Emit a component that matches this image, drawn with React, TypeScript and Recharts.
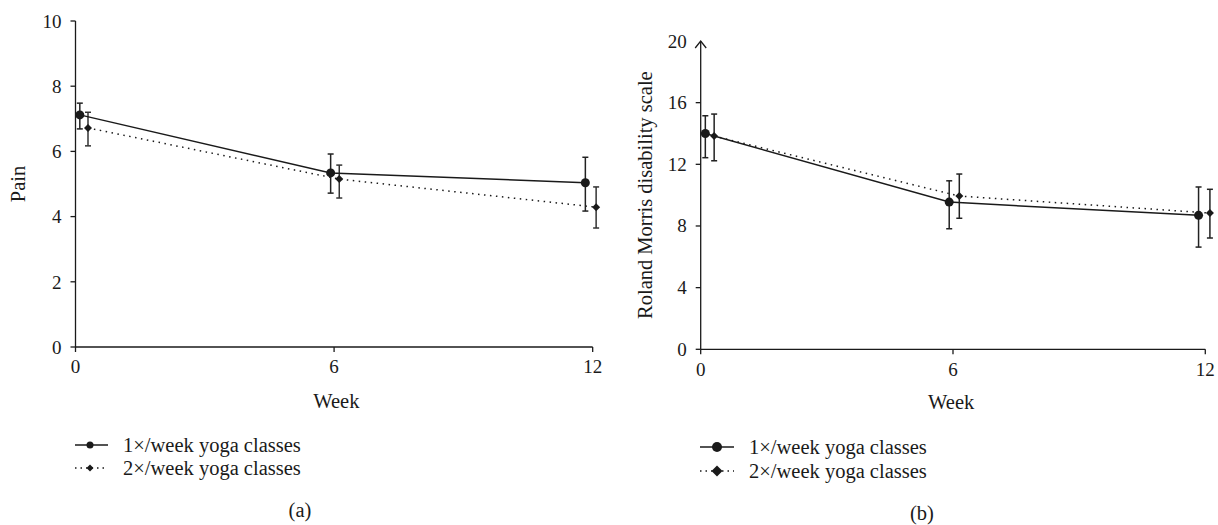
import React from 'react';
import { LineChart, Line, XAxis, YAxis, ErrorBar, Legend, ReferenceLine } from 'recharts';

const weekTicks = [0, 6, 12];
const painTicks = [0, 2, 4, 6, 8, 10];
const rmdqTicks = [0, 4, 8, 12, 16, 20];
const seriesNames = ['1×/week yoga classes', '2×/week yoga classes'];

// Panel (a) – Pain (x = plotted week position, slightly jittered as in the figure)
const painOnceX = [0.1, 5.92, 11.83];
const painOnceMean = [7.12, 5.34, 5.04];
const painOnceErrLow = [0.43, 0.62, 0.87];
const painOnceErrHigh = [0.36, 0.58, 0.78];

const painTwiceX = [0.29, 6.12, 12.08];
const painTwiceMean = [6.72, 5.15, 4.29];
const painTwiceErrLow = [0.55, 0.58, 0.64];
const painTwiceErrHigh = [0.48, 0.43, 0.62];

// Panel (b) – Roland Morris disability scale
const rmdqOnceX = [0.11, 5.91, 11.84];
const rmdqOnceMean = [14.0, 9.55, 8.69];
const rmdqOnceErrLow = [1.57, 1.73, 2.06];
const rmdqOnceErrHigh = [1.15, 1.38, 1.84];

const rmdqTwiceX = [0.32, 6.15, 12.11];
const rmdqTwiceMean = [13.83, 9.94, 8.84];
const rmdqTwiceErrLow = [1.6, 1.44, 1.62];
const rmdqTwiceErrHigh = [1.43, 1.43, 1.54];

const build = (xs: number[], ys: number[], lo: number[], hi: number[]) =>
  xs.map((x, i) => ({ x, y: ys[i], err: [lo[i], hi[i]] }));

const FONT = '"Liberation Serif", "Times New Roman", serif';
const INK = '#1a1a1a';

const diamondPath = (cx: number, cy: number, r: number) =>
  `M${cx},${cy - r} L${cx + r},${cy} L${cx},${cy + r} L${cx - r},${cy} Z`;

const makeCircleDot = (r: number) => (p: any) => (
  <circle key={`c-${p.index}`} cx={p.cx} cy={p.cy} r={r} fill={INK} />
);
const makeDiamondDot = (r: number) => (p: any) => (
  <path key={`d-${p.index}`} d={diamondPath(p.cx, p.cy, r)} fill={INK} />
);

const yLabel = (text: string, dx: number, arrow: boolean) => (props: any) => {
  const vb = props.viewBox || {};
  const cx = vb.x + dx;
  const cy = vb.y + vb.height / 2;
  const ax = vb.x + vb.width;
  const ay = vb.y;
  return (
    <g>
      <text
        x={cx}
        y={cy}
        transform={`rotate(-90 ${cx} ${cy})`}
        textAnchor="middle"
        dominantBaseline="central"
        fontFamily={FONT}
        fontSize={20.5}
        fill={INK}
      >
        {text}
      </text>
      {arrow && (
        <path
          d={`M${ax - 5.5},${ay + 7} L${ax},${ay} L${ax + 5.5},${ay + 7}`}
          stroke={INK}
          strokeWidth={1.3}
          fill="none"
        />
      )}
    </g>
  );
};

const xLabel = (text: string, dx: number, dy: number) => (props: any) => {
  const vb = props.viewBox || {};
  return (
    <text
      x={vb.x + vb.width / 2 + dx}
      y={vb.y + dy}
      textAnchor="middle"
      dominantBaseline="central"
      fontFamily={FONT}
      fontSize={20.5}
      fill={INK}
    >
      {text}
    </text>
  );
};

const NoTop20Tick = (props: any) => {
  const { x, y, payload } = props;
  const tickMargin = 9;
  const tickSize = 5;
  return (
    <g>
      {payload.value !== 20 && (
        <line
          x1={x + tickMargin}
          x2={x + tickMargin + tickSize}
          y1={y}
          y2={y}
          stroke={INK}
          strokeWidth={1.3}
        />
      )}
      <text x={x} y={y} textAnchor="end" dominantBaseline="central" fontFamily={FONT} fontSize={19} fill={INK}>
        {payload.value}
      </text>
    </g>
  );
};

type LegendCfg = {
  lineL: number;
  lineR: number;
  markerX: number;
  circleR: number;
  diamondR: number;
  textL: number;
  row1: number;
  row2: number;
  caption: string;
  captionX: number;
  captionY: number;
};

const legendContent = (cfg: LegendCfg) => () => {
  const w = cfg.lineR - cfg.lineL + 4;
  const row = (idx: number, top: number) => (
    <div
      key={idx}
      style={{
        position: 'absolute',
        left: cfg.lineL - 2,
        top: top - 12,
        height: 24,
        display: 'flex',
        alignItems: 'center',
        whiteSpace: 'nowrap',
      }}
    >
      <svg width={w} height={24} style={{ display: 'block' }}>
        <line
          x1={2}
          x2={w - 2}
          y1={12}
          y2={12}
          stroke={INK}
          strokeWidth={1.5}
          strokeDasharray={idx === 0 ? undefined : '1.5 4'}
        />
        {idx === 0 ? (
          <circle cx={cfg.markerX - cfg.lineL + 2} cy={12} r={cfg.circleR} fill={INK} />
        ) : (
          <path d={diamondPath(cfg.markerX - cfg.lineL + 2, 12, cfg.diamondR)} fill={INK} />
        )}
      </svg>
      <span
        style={{
          marginLeft: cfg.textL - cfg.lineR - 2,
          fontFamily: FONT,
          fontSize: 20.5,
          color: INK,
          lineHeight: '24px',
        }}
      >
        {seriesNames[idx]}
      </span>
    </div>
  );
  return (
    <div style={{ position: 'relative', width: 609, height: 95 }}>
      {row(0, cfg.row1)}
      {row(1, cfg.row2)}
      <div
        style={{
          position: 'absolute',
          left: cfg.captionX - 30,
          width: 60,
          top: cfg.captionY - 12,
          lineHeight: '24px',
          textAlign: 'center',
          fontFamily: FONT,
          fontSize: 20.5,
          color: INK,
        }}
      >
        {cfg.caption}
      </div>
    </div>
  );
};

const painOnce = build(painOnceX, painOnceMean, painOnceErrLow, painOnceErrHigh);
const painTwice = build(painTwiceX, painTwiceMean, painTwiceErrLow, painTwiceErrHigh);
const rmdqOnce = build(rmdqOnceX, rmdqOnceMean, rmdqOnceErrLow, rmdqOnceErrHigh);
const rmdqTwice = build(rmdqTwiceX, rmdqTwiceMean, rmdqTwiceErrLow, rmdqTwiceErrHigh);

const tickStyle = { fontFamily: FONT, fontSize: 19, fill: INK };

export default function App() {
  return (
    <div style={{ position: 'absolute', left: 0, top: 0, width: 1218, height: 525, background: '#fff' }}>
      {/* Panel (a) */}
      <div style={{ position: 'absolute', left: 0, top: 0 }}>
        <LineChart width={609} height={525} margin={{ top: 21, right: 7.7, left: 0, bottom: 148 }}>
          <XAxis
            type="number"
            dataKey="x"
            domain={[0, 12.2]}
            ticks={weekTicks}
            axisLine={false}
            tickSize={5}
            tickMargin={8}
            tickLine={{ stroke: INK, strokeWidth: 1.3 }}
            tick={tickStyle}
            height={30}
            label={{ content: xLabel('Week', -2, 54) }}
          />
          <YAxis
            type="number"
            domain={[0, 10]}
            ticks={painTicks}
            width={75.5}
            tickSize={5}
            tickMargin={9}
            axisLine={{ stroke: INK, strokeWidth: 1.3 }}
            tickLine={{ stroke: INK, strokeWidth: 1.3 }}
            tick={tickStyle}
            label={{ content: yLabel('Pain', 18, false) }}
          />
          <ReferenceLine
            segment={[{ x: 0, y: 0 }, { x: 12, y: 0 }]}
            stroke={INK}
            strokeWidth={1.3}
            ifOverflow="visible"
          />
          <Line
            data={painTwice}
            dataKey="y"
            name={seriesNames[1]}
            stroke={INK}
            strokeWidth={1.5}
            strokeDasharray="1.5 4.5"
            dot={makeDiamondDot(4)}
            isAnimationActive={false}
          >
            <ErrorBar dataKey="err" width={3} stroke="#333" strokeWidth={1.5} direction="y" />
          </Line>
          <Line
            data={painOnce}
            dataKey="y"
            name={seriesNames[0]}
            stroke={INK}
            strokeWidth={1.5}
            dot={makeCircleDot(4.5)}
            isAnimationActive={false}
          >
            <ErrorBar dataKey="err" width={3} stroke="#222" strokeWidth={1.5} direction="y" />
          </Line>
          <Legend
            layout="vertical"
            align="center"
            verticalAlign="middle"
            wrapperStyle={{ left: 0, top: 430, width: 609, height: 95 }}
            content={legendContent({
              lineL: 75,
              lineR: 108,
              markerX: 90,
              circleR: 3.5,
              diamondR: 3.5,
              textL: 123,
              row1: 15,
              row2: 38,
              caption: '(a)',
              captionX: 300,
              captionY: 80,
            })}
          />
        </LineChart>
      </div>
      {/* Panel (b) */}
      <div style={{ position: 'absolute', left: 609, top: 0 }}>
        <LineChart width={609} height={525} margin={{ top: 41, right: 4.3, left: 0, bottom: 145.7 }}>
          <XAxis
            type="number"
            dataKey="x"
            domain={[0, 12.2]}
            ticks={weekTicks}
            axisLine={false}
            tickSize={5}
            tickMargin={8}
            tickLine={{ stroke: INK, strokeWidth: 1.3 }}
            tick={tickStyle}
            height={30}
            label={{ content: xLabel('Week', -6, 53) }}
          />
          <YAxis
            type="number"
            domain={[0, 20]}
            ticks={rmdqTicks}
            width={91.7}
            tickSize={5}
            tickMargin={9}
            axisLine={{ stroke: INK, strokeWidth: 1.3 }}
            tickLine={false}
            tick={<NoTop20Tick />}
            label={{ content: yLabel('Roland Morris disability scale', 36, true) }}
          />
          <ReferenceLine
            segment={[{ x: 0, y: 0 }, { x: 12, y: 0 }]}
            stroke={INK}
            strokeWidth={1.3}
            ifOverflow="visible"
          />
          <Line
            data={rmdqTwice}
            dataKey="y"
            name={seriesNames[1]}
            stroke={INK}
            strokeWidth={1.5}
            strokeDasharray="1.5 4.5"
            dot={makeDiamondDot(4)}
            isAnimationActive={false}
          >
            <ErrorBar dataKey="err" width={3} stroke="#222" strokeWidth={1.5} direction="y" />
          </Line>
          <Line
            data={rmdqOnce}
            dataKey="y"
            name={seriesNames[0]}
            stroke={INK}
            strokeWidth={1.5}
            dot={makeCircleDot(4.5)}
            isAnimationActive={false}
          >
            <ErrorBar dataKey="err" width={3} stroke="#222" strokeWidth={1.5} direction="y" />
          </Line>
          <Legend
            layout="vertical"
            align="center"
            verticalAlign="middle"
            wrapperStyle={{ left: 0, top: 430, width: 609, height: 95 }}
            content={legendContent({
              lineL: 91,
              lineR: 125,
              markerX: 108,
              circleR: 5,
              diamondR: 5.5,
              textL: 140,
              row1: 17,
              row2: 41,
              caption: '(b)',
              captionX: 313,
              captionY: 83,
            })}
          />
        </LineChart>
      </div>
    </div>
  );
}
